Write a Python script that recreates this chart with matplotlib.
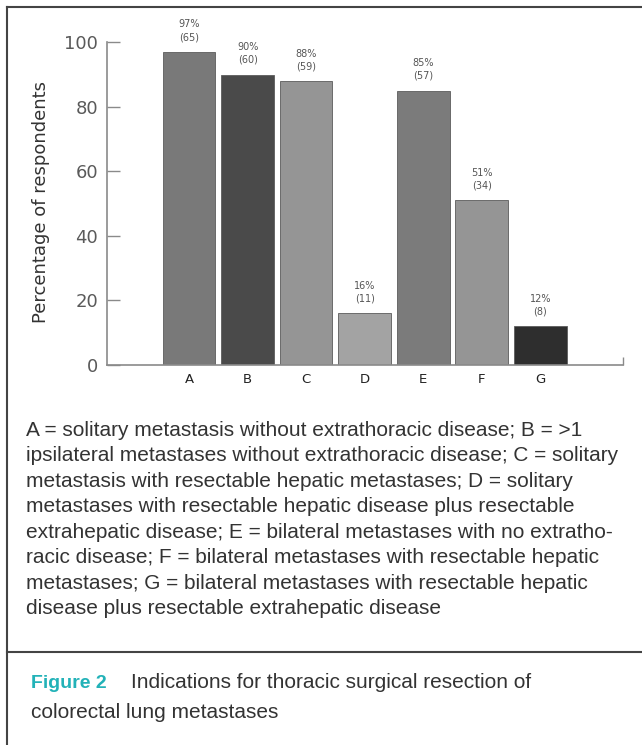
"""bar chart of indications for thoracic resection, with figure caption"""
import matplotlib
matplotlib.use("Agg")
import matplotlib.pyplot as plt
from matplotlib.lines import Line2D
from matplotlib import font_manager

categories = ['A', 'B', 'C', 'D', 'E', 'F', 'G']
percent = [97, 90, 88, 16, 85, 51, 12]
counts = [65, 60, 59, 11, 57, 34, 8]
bar_colors = ['#797979', '#4a4a4a', '#959595', '#a3a3a3', '#7b7b7b', '#959595', '#2e2e2e']
y_ticks = [0, 20, 40, 60, 80, 100]

legend_lines = [
    'A = solitary metastasis without extrathoracic disease; B = >1',
    'ipsilateral metastases without extrathoracic disease; C = solitary',
    'metastasis with resectable hepatic metastases; D = solitary',
    'metastases with resectable hepatic disease plus resectable',
    'extrahepatic disease; E = bilateral metastases with no extratho-',
    'racic disease; F = bilateral metastases with resectable hepatic',
    'metastases; G = bilateral metastases with resectable hepatic',
    'disease plus resectable extrahepatic disease',
]
fig_label = 'Figure 2'
title_lines = ['Indications for thoracic surgical resection of',
               'colorectal lung metastases']


def pick_font(names):
    """first installed family from the list"""
    for n in names:
        try:
            font_manager.findfont(n, fallback_to_default=False)
            return n
        except ValueError:
            pass
    return 'DejaVu Sans'


W, H = 642, 745
cap_font = pick_font(['Liberation Sans', 'Arial', 'DejaVu Sans'])

fig = plt.figure(figsize=(W / 100, H / 100), dpi=100)


def fx(px):
    return px / W


def fy(py):
    return 1 - py / H


# axes placed in pixel terms
ax = fig.add_axes([fx(107), fy(365), (623 - 107) / W, (365 - 42.3) / H])
x = list(range(len(categories)))
ax.bar(x, percent, width=0.9, color=bar_colors, edgecolor='#5c5c5c', linewidth=0.6)

for xi, p, c in zip(x, percent, counts):
    ax.annotate('%d%%\n(%d)' % (p, c), (xi, p), xytext=(0, 7), textcoords='offset points',
                ha='center', va='bottom', fontsize=7, color='#555555', linespacing=1.35)

ax.set_xlim(-1.40, 7.41)
ax.set_ylim(0, 100)
ax.set_yticks(y_ticks)
ax.set_xticks(x)
ax.set_xticklabels(categories)
ax.set_xticks([7.41], minor=True)

for s in ['top', 'right']:
    ax.spines[s].set_visible(False)
for s in ['left', 'bottom']:
    ax.spines[s].set_color('#8a8a8a')
    ax.spines[s].set_linewidth(1.2)

ax.tick_params(axis='y', direction='in', length=9.4, width=1, color='#8a8a8a',
               pad=6.5, labelsize=13, labelcolor='#5a5a5a')
ax.tick_params(axis='x', which='major', length=0, pad=6, labelsize=9.5, labelcolor='#222222')
ax.tick_params(axis='x', which='minor', direction='in', length=5.8, width=1, color='#8a8a8a')

ax.set_ylabel('Percentage of respondents', fontsize=13, color='#333333')
ax.yaxis.set_label_coords((41 - 107) / 516, 0.505)
ax.yaxis.label.set_va('center')

# frame and separator
line_kw = dict(color='#444444', linewidth=1.5, transform=fig.transFigure)
fig.add_artist(Line2D([fx(7), 1], [fy(7), fy(7)], **line_kw))
fig.add_artist(Line2D([fx(7), fx(7)], [fy(7), 0], **line_kw))
fig.add_artist(Line2D([fx(7), 1], [fy(652), fy(652)], **line_kw))

# key text below the chart
for i, t in enumerate(legend_lines):
    fig.text(fx(26), fy(430 + i * 25.57), t, ha='left', va='center',
             fontsize=15, color='#333333', family=cap_font)

# figure caption
fig.text(fx(31), fy(683), fig_label, ha='left', va='center', fontsize=14,
         fontweight='bold', color='#22b2b8', family=cap_font)
fig.text(fx(131), fy(683), title_lines[0], ha='left', va='center', fontsize=15,
         color='#333333', family=cap_font)
fig.text(fx(31), fy(712), title_lines[1], ha='left', va='center', fontsize=15,
         color='#333333', family=cap_font)

fig.savefig('out.png', dpi=100)
